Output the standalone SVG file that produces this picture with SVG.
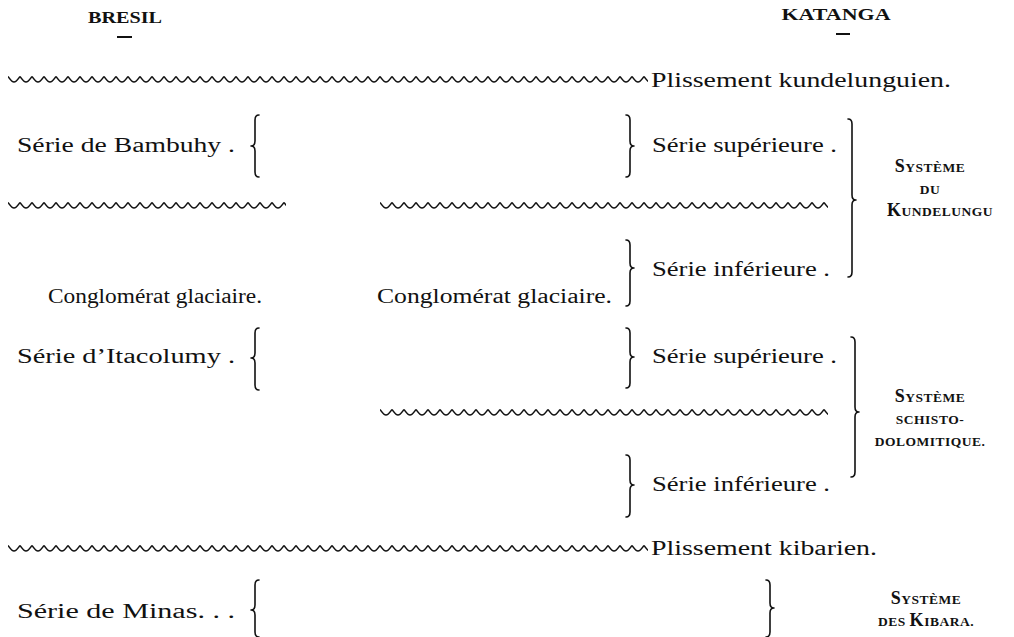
<svg xmlns="http://www.w3.org/2000/svg" width="1014" height="637" viewBox="0 0 1014 637">
<style>
  .t { font-family: "Liberation Serif", "Times New Roman", serif; font-size: 20px; fill: #111; }
  .h { font-family: "Liberation Serif", "Times New Roman", serif; font-size: 16px; font-weight: bold; fill: #111; }
  .sc { font-family: "Liberation Serif", "Times New Roman", serif; font-size: 13.5px; font-weight: bold; fill: #111; letter-spacing: 0.5px; }
  .big { font-size: 18px; }
  .br { fill: none; stroke: #111; stroke-width: 1.6; stroke-linecap: round; stroke-linejoin: round; }
  .dash { stroke: #111; stroke-width: 2; }
  .wv { fill: url(#wave); }
</style>
<defs>
  <pattern id="wave" patternUnits="userSpaceOnUse" width="12" height="10">
    <path d="M0,1.5 C2,4 3.5,7 6,7 C8.5,7 10,4 12,1.5" fill="none" stroke="#111" stroke-width="1.6"/>
  </pattern>
</defs>
<rect width="1014" height="637" fill="#fff"/>

<g id="headers">
  <text class="h" x="125" y="23" text-anchor="middle" textLength="74" lengthAdjust="spacingAndGlyphs">BRESIL</text>
  <line class="dash" x1="117" y1="37" x2="132" y2="37"/>
  <text class="h" x="836" y="20" text-anchor="middle" textLength="109" lengthAdjust="spacingAndGlyphs">KATANGA</text>
  <line class="dash" x1="836" y1="34" x2="850" y2="34"/>
</g>

<g id="unconformities">
  <g transform="translate(8,75)"><rect class="wv" x="0" y="0" width="640" height="10"/></g>
  <g transform="translate(8,201)"><rect class="wv" x="0" y="0" width="278" height="10"/></g>
  <g transform="translate(380,201)"><rect class="wv" x="0" y="0" width="448" height="10"/></g>
  <g transform="translate(380,408)"><rect class="wv" x="0" y="0" width="448" height="10"/></g>
  <g transform="translate(8,544)"><rect class="wv" x="0" y="0" width="640" height="10"/></g>
</g>

<g id="plissement-kundelunguien">
  <text class="t" x="651" y="87" textLength="300" lengthAdjust="spacingAndGlyphs">Plissement kundelunguien.</text>
</g>

<g id="bambuhy">
  <text class="t" x="17" y="152" textLength="218" lengthAdjust="spacingAndGlyphs">Série de Bambuhy .</text>
  <path class="br" d="M259,115 Q255,115 255,120 L255,141 Q255,146 251,146 Q255,146 255,151 L255,172 Q255,177 259,177"/>
</g>

<g id="kundelungu-superieure">
  <path class="br" d="M626,115 Q630,115 630,120 L630,141 Q630,146 634,146 Q630,146 630,151 L630,172 Q630,177 626,177"/>
  <text class="t" x="652" y="152" textLength="185" lengthAdjust="spacingAndGlyphs">Série supérieure .</text>
</g>

<g id="systeme-kundelungu">
  <path class="br" d="M848,119 Q852,119 852,124 L852,195 Q852,200 856,200 Q852,200 852,205 L852,272 Q852,277 848,277"/>
  <text class="sc" x="930" y="172" text-anchor="middle"><tspan class="big">S</tspan>YSTÈME</text>
  <text class="sc" x="930" y="194" text-anchor="middle">DU</text>
  <text class="sc" x="940" y="216" text-anchor="middle"><tspan class="big">K</tspan>UNDELUNGU</text>
</g>

<g id="kundelungu-inferieure">
  <path class="br" d="M626,240 Q630,240 630,245 L630,263 Q630,268 634,268 Q630,268 630,273 L630,301 Q630,306 626,306"/>
  <text class="t" x="652" y="276" textLength="178" lengthAdjust="spacingAndGlyphs">Série inférieure .</text>
</g>

<g id="conglomerat-bresil">
  <text class="t" x="48" y="303" textLength="214" lengthAdjust="spacingAndGlyphs">Conglomérat glaciaire.</text>
</g>
<g id="conglomerat-katanga">
  <text class="t" x="377" y="303" textLength="235" lengthAdjust="spacingAndGlyphs">Conglomérat glaciaire.</text>
</g>

<g id="itacolumy">
  <text class="t" x="17" y="363" textLength="218" lengthAdjust="spacingAndGlyphs">Série d’Itacolumy .</text>
  <path class="br" d="M259,328 Q255,328 255,333 L255,353 Q255,358 251,358 Q255,358 255,363 L255,385 Q255,390 259,390"/>
</g>

<g id="schisto-superieure">
  <path class="br" d="M626,328 Q630,328 630,333 L630,352 Q630,357 634,357 Q630,357 630,362 L630,383 Q630,388 626,388"/>
  <text class="t" x="652" y="363" textLength="185" lengthAdjust="spacingAndGlyphs">Série supérieure .</text>
</g>

<g id="systeme-schisto-dolomitique">
  <path class="br" d="M851,337 Q855,337 855,342 L855,407 Q855,412 859,412 Q855,412 855,417 L855,472 Q855,477 851,477"/>
  <text class="sc" x="930" y="402" text-anchor="middle"><tspan class="big">S</tspan>YSTÈME</text>
  <text class="sc" x="930" y="424" text-anchor="middle">SCHISTO-</text>
  <text class="sc" x="930" y="446" text-anchor="middle">DOLOMITIQUE.</text>
</g>

<g id="schisto-inferieure">
  <path class="br" d="M626,455 Q630,455 630,460 L630,480 Q630,485 634,485 Q630,485 630,490 L630,512 Q630,517 626,517"/>
  <text class="t" x="652" y="491" textLength="178" lengthAdjust="spacingAndGlyphs">Série inférieure .</text>
</g>

<g id="plissement-kibarien">
  <text class="t" x="651" y="555" textLength="226" lengthAdjust="spacingAndGlyphs">Plissement kibarien.</text>
</g>

<g id="minas">
  <text class="t" x="17" y="618" textLength="218" lengthAdjust="spacingAndGlyphs">Série de Minas. . .</text>
  <path class="br" d="M259,580 Q255,580 255,585 L255,605 Q255,610 251,610 Q255,610 255,615 L255,632 Q255,637 259,637"/>
</g>

<g id="systeme-kibara">
  <path class="br" d="M766,580 Q770,580 770,585 L770,603 Q770,608 774,608 Q770,608 770,613 L770,632 Q770,637 766,637"/>
  <text class="sc" x="926" y="604" text-anchor="middle"><tspan class="big">S</tspan>YSTÈME</text>
  <text class="sc" x="926" y="626" text-anchor="middle">DES <tspan class="big">K</tspan>IBARA.</text>
</g>
</svg>
